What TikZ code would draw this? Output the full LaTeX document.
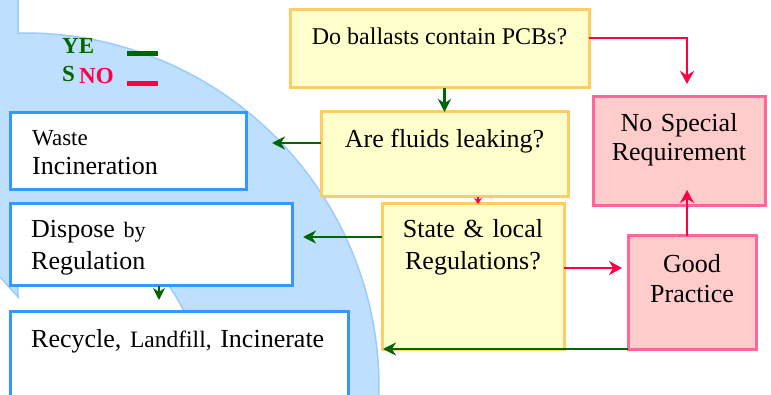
\documentclass[tikz,border=0pt]{standalone}
\usepackage{fontspec}
\setmainfont{Liberation Serif}
\usetikzlibrary{arrows.meta}
\definecolor{qfill}{HTML}{FFFFCC}
\definecolor{qline}{HTML}{FFCC66}
\definecolor{pfill}{HTML}{FFCCCC}
\definecolor{pline}{HTML}{FF6699}
\definecolor{bline}{HTML}{3399FF}
\definecolor{band}{HTML}{BFDFFF}
\definecolor{bandline}{HTML}{9CCBFF}
\definecolor{yesgreen}{HTML}{006600}
\definecolor{nored}{HTML}{FF0044}
\newcommand\fs[2]{\fontsize{#1}{#2}\selectfont}

\begin{document}
\begin{tikzpicture}[x=1pt,y=-1pt,
  qbox/.style={draw=qline,fill=qfill,line width=3pt,inner sep=0pt,outer sep=0pt,anchor=north west},
  pbox/.style={draw=pline,fill=pfill,line width=3pt,inner sep=0pt,outer sep=0pt,anchor=north west},
  bbox/.style={draw=bline,fill=white,line width=3pt,inner sep=0pt,outer sep=0pt,anchor=north west},
  txt/.style={inner sep=0pt,anchor=base,align=center,font=\fs{26}{29}},
  ltxt/.style={inner sep=0pt,anchor=base west,align=left,font=\fs{26}{29}},
  yesarrow/.style={draw=yesgreen,line width=2.8pt,-{Stealth[length=13pt,width=13pt]}},
  noarrow/.style={draw=nored,line width=2.8pt,-{Stealth[length=13pt,width=14pt]}}]
\useasboundingbox (0,0) rectangle (771,395);
\clip (0,0) rectangle (771,395);

\fill[band] (0,0) -- (18,0) -- (18,33.07)
  arc[start angle=-91.13,end angle=1.3,radius=354] -- (200.8,395)
  arc[start angle=2.6,end angle=-92.28,radius=176] -- (18,297) -- (0,277) -- cycle;
\draw[bandline,line width=1.5pt] (18,0) -- (18,33.07)
  arc[start angle=-91.13,end angle=1.3,radius=354];
\draw[bandline,line width=1.5pt] (200.8,395)
  arc[start angle=2.6,end angle=-92.28,radius=176] -- (18,297) -- (0,277);

\node[inner sep=0pt,anchor=base west,text=yesgreen,font=\bfseries\fs{23}{27}] (yesA) at (62,54) {YE};
\node[inner sep=0pt,anchor=base west,text=yesgreen,font=\bfseries\fs{23}{27}] (yesB) at (62,82) {S};
\node[inner sep=0pt,anchor=base west,text=nored,font=\bfseries\fs{23}{27}] (no) at (79,84) {NO};
\draw[yesgreen,line width=5pt] (127,54) -- (158,54);
\draw[nored,line width=5pt] (127,84) -- (158,84);

\node[qbox,minimum width=299pt,minimum height=78pt] (pcbs) at (290,10) {};
\node[qbox,minimum width=247pt,minimum height=85pt] (leak) at (321,112) {};
\node[qbox,minimum width=182pt,minimum height=145pt] (regs) at (382,204) {};
\node[pbox,minimum width=172pt,minimum height=109pt] (nospec) at (593,97) {};
\node[pbox,minimum width=128pt,minimum height=113pt] (good) at (628,236) {};
\node[bbox,minimum width=236pt,minimum height=77pt] (waste) at (10,113) {};
\node[bbox,minimum width=282pt,minimum height=82pt] (dispose) at (10,204) {};
\node[bbox,minimum width=338pt,minimum height=100pt] (recycle) at (10,312) {};

\node[txt,font=\fs{24}{29}] (pcbsT) at (439.5,45) {Do ballasts contain PCBs?};
\node[txt] (leakT) at (444.5,148) {Are fluids leaking?};
\node[txt,text width=180pt,font=\fs{26}{32}] (regsT) at (473,238) {State \& local\\Regulations?};
\node[txt,text width=170pt] (nospecT) at (679,132) {No Special\\Requirement};
\node[txt,text width=126pt] (goodT) at (692,273) {Good\\Practice};
\node[ltxt,text width=210pt] (wasteT) at (32,146) {{\fs{23}{29}Waste}\\Incineration};
\node[ltxt,text width=250pt,font=\fs{26}{32}] (disposeT) at (31,238) {Dispose {\fs{22}{32}by}\\Regulation};
\node[ltxt,text width=310pt] (recycleT) at (31,347) {Recycle, {\fs{23.5}{29}Landfill,} Incinerate};

\coordinate (nsIn) at (687,84);
\coordinate (wasteIn) at (272,143);
\coordinate (regsIn) at (478,204);
\coordinate (disposeIn) at (303,237);
\coordinate (goodIn) at (622,268);
\coordinate (nsUp) at (687,190);
\coordinate (recycleIn) at (383,349);
\coordinate (recycleTop) at (159,300);

\draw[yesarrow] (pcbs.south -| leak.north) -- (leak.north);
\draw[noarrow] ([yshift=11pt]pcbs.east) -| (nsIn);
\draw[yesarrow] (leak.west |- wasteIn) -- (wasteIn);
\draw[draw=nored,line width=2pt,-{Stealth[length=6pt,width=8pt]}] (leak.south -| regsIn) -- (regsIn);
\draw[yesarrow] (regs.west |- disposeIn) -- (disposeIn);
\draw[noarrow] (regs.east |- goodIn) -- (goodIn);
\draw[noarrow] (good.north -| nsUp) -- (nsUp);
\draw[yesarrow] (good.south west) -- (recycleIn);
\draw[draw=yesgreen,line width=2pt,-{Stealth[length=12pt,width=12pt]}] (dispose.south -| recycleTop) -- (recycleTop);
\end{tikzpicture}
\end{document}
